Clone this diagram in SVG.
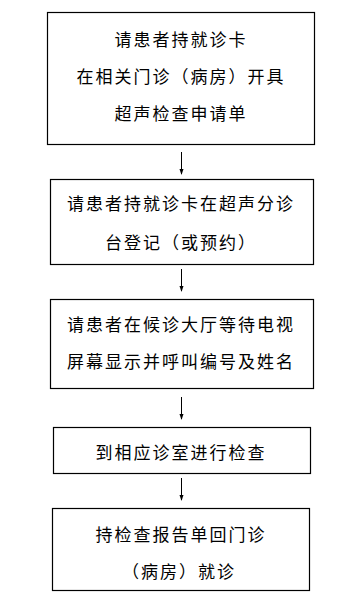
<svg xmlns="http://www.w3.org/2000/svg" width="355" height="605" viewBox="0 0 355 605">
<defs>
<style>
.box{fill:#fff;stroke:#000;stroke-width:1.2}
.t{font-family:"Noto Sans CJK SC","Noto Sans",sans-serif;font-size:17px;letter-spacing:2px;fill:#000;text-anchor:middle;dominant-baseline:central}
.c{stroke:#000;stroke-width:1;fill:none;marker-end:url(#ah)}
</style>
<marker id="ah" viewBox="0 0 6 6" refX="5" refY="3" markerWidth="6" markerHeight="6" markerUnits="userSpaceOnUse" orient="auto">
<path d="M0,1 L6,3 L0,5 z" fill="#000"/>
</marker>
</defs>
<rect width="355" height="605" fill="#fff"/>
<g id="n1">
<rect class="box" x="47.5" y="12.5" width="267" height="132"/>
<text class="t" x="181" y="38">请患者持就诊卡</text>
<text class="t" x="181" y="75">在相关门诊（病房）开具</text>
<text class="t" x="181" y="112">超声检查申请单</text>
</g>
<g id="n2">
<rect class="box" x="50.5" y="179.5" width="263" height="85"/>
<text class="t" x="181" y="202">请患者持就诊卡在超声分诊</text>
<text class="t" x="181" y="241">台登记（或预约）</text>
</g>
<g id="n3">
<rect class="box" x="50.5" y="299.5" width="263" height="89"/>
<text class="t" x="181" y="323">请患者在候诊大厅等待电视</text>
<text class="t" x="181" y="360">屏幕显示并呼叫编号及姓名</text>
</g>
<g id="n4">
<rect class="box" x="53.5" y="427.5" width="257" height="46"/>
<text class="t" x="181" y="451">到相应诊室进行检查</text>
</g>
<g id="n5">
<rect class="box" x="52.5" y="508.5" width="257" height="82"/>
<text class="t" x="181" y="533">持检查报告单回门诊</text>
<text class="t" x="179" y="570">（病房）就诊</text>
</g>
<g id="connectors">
<line class="c" x1="181.5" y1="152" x2="181.5" y2="174"/>
<line class="c" x1="181.5" y1="269" x2="181.5" y2="291"/>
<line class="c" x1="181.5" y1="397" x2="181.5" y2="419"/>
<line class="c" x1="181.5" y1="478" x2="181.5" y2="500"/>
</g>
</svg>
